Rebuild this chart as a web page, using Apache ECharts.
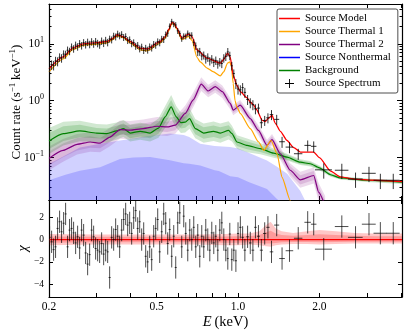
<!DOCTYPE html>
<html>
<head>
<meta charset="utf-8">
<script src="https://cdn.jsdelivr.net/npm/echarts@6/dist/echarts.min.js"></script>
<style>
html, body { margin: 0; padding: 0; background: #fff; }
#chart { width: 407px; height: 335px; }
</style>
</head>
<body>
<div id="chart"></div>
<script>
const FONT = "Liberation Serif";
const log = Math.log10;

// spectrum bins: energy (keV), count rate, fractional error, half bin width, residual (chi)
const energy = [
  0.201, 0.2045, 0.208, 0.2115, 0.2152, 0.2189, 0.2226, 0.2265, 0.2304, 0.2343,
  0.2383, 0.2424, 0.2466, 0.2509, 0.2552, 0.2596, 0.264, 0.2686, 0.2732, 0.2779,
  0.2827, 0.2875, 0.2925, 0.2975, 0.3026, 0.3078, 0.3131, 0.3185, 0.324, 0.3296,
  0.3352, 0.341, 0.3468, 0.3528, 0.3589, 0.365, 0.3713, 0.3777, 0.3842, 0.3908,
  0.3975, 0.4043, 0.4113, 0.4184, 0.4256, 0.4329, 0.4403, 0.4479, 0.4556, 0.4634,
  0.4714, 0.4795, 0.4877, 0.4961, 0.5047, 0.5133, 0.5222, 0.5312, 0.5403, 0.5496,
  0.559, 0.5687, 0.5784, 0.5884, 0.5985, 0.6088, 0.6193, 0.6299, 0.6408, 0.6518,
  0.663, 0.6744, 0.686, 0.6978, 0.7098, 0.722, 0.7344, 0.747, 0.7599, 0.773,
  0.7863, 0.7998, 0.8135, 0.8275, 0.8418, 0.8562, 0.871, 0.886, 0.9012, 0.9167,
  0.9325, 0.9485, 0.9648,
  0.982, 1.0, 1.02, 1.04, 1.06, 1.085, 1.11, 1.135, 1.16, 1.19,
  1.22, 1.255, 1.29, 1.33, 1.39, 1.455, 1.55, 1.67, 1.81, 1.905,
  2.075, 2.42, 2.72, 3.05, 3.36, 3.75
];
const rate = [
  3.6, 4.3, 4.2, 5.0, 4.9, 5.8, 5.6, 6.6, 6.5, 7.7,
  7.4, 8.8, 8.2, 9.5, 8.9, 10.1, 9.3, 10.5, 9.7, 10.7,
  9.8, 10.9, 10.0, 11.0, 10.2, 9.6, 11.2, 10.3, 11.5, 10.6,
  12.2, 11.8, 13.7, 13.3, 14.9, 13.9, 14.6, 13.0, 13.4, 11.5,
  11.8, 10.1, 10.5, 9.1, 9.4, 8.2, 8.8, 7.7, 8.4, 7.8,
  8.9, 8.5, 9.8, 9.5, 10.9, 10.5, 12.1, 12.0, 14.4, 15.4,
  20.3, 24.5, 22.2, 21.4, 16.9, 15.2, 12.3, 13.6, 13.5, 15.3,
  14.0, 14.1, 10.6, 9.2, 7.2, 7.3, 6.1, 6.3, 5.4, 5.8,
  5.0, 5.4, 4.7, 5.1, 4.4, 4.8, 4.5, 5.6, 6.0, 7.2,
  6.2, 4.1, 3.0,
  2.0, 1.6, 1.55, 1.7, 1.4, 1.05, 0.92, 0.85, 0.72, 0.74,
  0.41, 0.45, 0.50, 0.57, 0.47, 0.19, 0.153, 0.117, 0.164, 0.158,
  0.061, 0.060, 0.042, 0.053, 0.040, 0.040
];
const rateErr = [
  0.20, 0.19, 0.19, 0.18, 0.18, 0.17, 0.17, 0.16, 0.16, 0.16,
  0.15, 0.15, 0.15, 0.15, 0.15, 0.15, 0.15, 0.15, 0.15, 0.15,
  0.15, 0.15, 0.15, 0.15, 0.15, 0.15, 0.15, 0.15, 0.15, 0.15,
  0.14, 0.14, 0.14, 0.14, 0.14, 0.14, 0.14, 0.14, 0.14, 0.14,
  0.14, 0.14, 0.14, 0.14, 0.14, 0.14, 0.14, 0.14, 0.14, 0.14,
  0.14, 0.14, 0.14, 0.14, 0.14, 0.14, 0.14, 0.14, 0.14, 0.14,
  0.12, 0.12, 0.12, 0.12, 0.12, 0.12, 0.12, 0.12, 0.12, 0.12,
  0.13, 0.13, 0.14, 0.15, 0.16, 0.16, 0.16, 0.16, 0.17, 0.17,
  0.17, 0.17, 0.17, 0.17, 0.17, 0.17, 0.17, 0.17, 0.17, 0.17,
  0.17, 0.17, 0.18,
  0.2, 0.2, 0.2, 0.2, 0.2, 0.2, 0.2, 0.2, 0.2, 0.2,
  0.2, 0.2, 0.2, 0.2, 0.2, 0.22, 0.22, 0.22, 0.22, 0.22,
  0.3, 0.3, 0.3, 0.3, 0.3, 0.3
];
const binHalf = [
  0.0018, 0.0018, 0.0018, 0.0018, 0.0019, 0.0019, 0.0019, 0.0019, 0.0020, 0.0020,
  0.0020, 0.0021, 0.0021, 0.0021, 0.0022, 0.0022, 0.0022, 0.0023, 0.0023, 0.0024,
  0.0024, 0.0024, 0.0025, 0.0025, 0.0026, 0.0026, 0.0027, 0.0027, 0.0028, 0.0028,
  0.0029, 0.0029, 0.0030, 0.0030, 0.0031, 0.0031, 0.0032, 0.0032, 0.0033, 0.0033,
  0.0034, 0.0034, 0.0035, 0.0036, 0.0036, 0.0037, 0.0037, 0.0038, 0.0039, 0.0039,
  0.0040, 0.0041, 0.0041, 0.0042, 0.0043, 0.0044, 0.0044, 0.0045, 0.0046, 0.0047,
  0.0048, 0.0048, 0.0049, 0.0050, 0.0051, 0.0052, 0.0053, 0.0054, 0.0054, 0.0055,
  0.0056, 0.0057, 0.0058, 0.0059, 0.0060, 0.0061, 0.0062, 0.0063, 0.0065, 0.0066,
  0.0067, 0.0068, 0.0069, 0.0070, 0.0072, 0.0073, 0.0074, 0.0075, 0.0077, 0.0078,
  0.0079, 0.0081, 0.0082,
  0.009, 0.009, 0.010, 0.010, 0.011, 0.012, 0.012, 0.013, 0.013, 0.015,
  0.016, 0.018, 0.018, 0.020, 0.030, 0.035, 0.050, 0.060, 0.050, 0.045,
  0.15, 0.14, 0.17, 0.18, 0.19, 0.21
];
const chi = [
  0.2, -0.2, -0.9, -0.65, 1.0, 1.6, 0.7, 1.47, 2.3, -0.65,
  0.85, 1.0, 0.6, -0.3, 0.25, -0.75, 0.85, 0.4, -1.2, -2.2,
  -1.35, 0.85, 0.25, -0.8, -0.95, -1.1, -0.35, -1.3, -0.95, -1.1,
  -3.4, 0.2, 0, 0.9, 0.3, -0.65, 0.85, 1.8, 2.3, 1.3,
  1.5, 0.55, 1.95, 2.6, 1.0, 1.6, 0, 0.55, -1.5, -2.0,
  -0.65, -1.8, 0.3, 1.0, 1.8, -1.1, 0.7, 2.3, 1.47, -0.35,
  0.9, -1.5, 0.3, -2.5, 1.5, 2.4, -0.65, 2.1, 0.55, -0.95,
  0.85, 0, 1.1, -0.65, 0.4, -1.5, 0.3, -0.65, 0.85, 0,
  -0.95, 0.6, -0.3, 0.3, -0.95, 0.85, 1.5, 0, -0.95, -1.7,
  0.5, -1.8, -0.95,
  -1.9, 0.55, 1.1, 0.2, -0.95, 0.25, -0.3, -0.95, 1.1, 0.3,
  -0.95, 0.55, 1.1, -1.1, 1.3, -1.7, -1.0, 0.12, 1.55, 1.38,
  -0.86, 1.17, 0.2, 1.38, 0.57, 0.57
];

// total source model
const modelE = [0.2, 0.2254, 0.245, 0.267, 0.301, 0.328, 0.345, 0.357, 0.376, 0.399,
  0.435, 0.461, 0.473, 0.502, 0.515, 0.538, 0.555, 0.569, 0.58, 0.594,
  0.62, 0.656, 0.676, 0.705, 0.768, 0.86, 0.885, 0.915, 0.936, 0.96,
  0.99, 1.019, 1.08, 1.11, 1.142, 1.17, 1.23, 1.262, 1.3, 1.336,
  1.374, 1.434, 1.518, 1.607, 1.7, 1.905, 2.0, 2.2, 2.39, 2.68, 3.18, 4.04];
const modelRate = [3.65, 5.9, 8.5, 10.0, 10.5, 11.0, 12.6, 14.4, 13.4, 11.0,
  8.4, 8.1, 8.5, 10.4, 11.0, 13.4, 18.0, 23.8, 23.0, 18.9,
  12.6, 14.8, 13.4, 7.8, 5.6, 4.56, 5.3, 6.85, 5.8, 2.8,
  1.85, 1.44, 1.12, 0.95, 0.84, 0.70, 0.45, 0.43, 0.50, 0.55,
  0.40, 0.29, 0.20, 0.15, 0.125, 0.125, 0.10, 0.058, 0.046, 0.042, 0.040, 0.038];

// thermal 1
const th1E = [0.2, 0.2254, 0.245, 0.267, 0.301, 0.328, 0.345, 0.357, 0.376, 0.399,
  0.435, 0.461, 0.473, 0.502, 0.515, 0.538, 0.555, 0.569, 0.58, 0.594,
  0.62, 0.656, 0.676, 0.705, 0.725, 0.768, 0.808, 0.86, 0.885, 0.915,
  0.932, 0.945, 0.96, 0.975, 0.99, 1.019, 1.11, 1.19, 1.245, 1.325,
  1.394, 1.455, 1.56, 1.62];
const th1Rate = [3.2, 5.4, 7.9, 9.4, 9.9, 10.4, 12.0, 13.8, 12.8, 10.4,
  7.8, 7.5, 7.9, 9.7, 10.3, 12.6, 17.0, 22.8, 22.0, 18.0,
  11.8, 13.5, 11.5, 5.8, 4.8, 3.75, 3.25, 2.72, 3.2, 4.6,
  4.8, 4.0, 2.0, 1.0, 0.78, 0.6, 0.324, 0.19, 0.134, 0.2,
  0.117, 0.045, 0.0176, 0.01];

// thermal 2 with 68% / 95% half widths (dex)
const th2E = [0.2, 0.2254, 0.254, 0.284, 0.309, 0.336, 0.366, 0.399, 0.446, 0.502,
  0.547, 0.586, 0.638, 0.683, 0.731, 0.776, 0.824, 0.875, 0.936, 0.96,
  1.019, 1.11, 1.19, 1.28, 1.336, 1.434, 1.56, 1.7, 1.905, 1.988, 2.1];
const th2Rate = [0.097, 0.134, 0.171, 0.188, 0.18, 0.23, 0.311, 0.303, 0.324, 0.356,
  0.346, 0.371, 0.597, 1.03, 1.95, 1.48, 1.77, 1.44, 0.895, 0.682,
  0.835, 0.486, 0.3, 0.164, 0.207, 0.117, 0.06, 0.0407, 0.0485, 0.0245, 0.0143];
const th2W68 = [0.12, 0.12, 0.11, 0.1, 0.09, 0.09, 0.09, 0.09, 0.09, 0.09,
  0.09, 0.09, 0.08, 0.07, 0.06, 0.06, 0.06, 0.06, 0.05, 0.05,
  0.05, 0.05, 0.05, 0.06, 0.06, 0.06, 0.07, 0.08, 0.08, 0.09, 0.1];
const th2W95 = [0.21, 0.2, 0.18, 0.17, 0.16, 0.16, 0.16, 0.16, 0.16, 0.16,
  0.16, 0.15, 0.14, 0.13, 0.12, 0.11, 0.11, 0.11, 0.1, 0.09,
  0.09, 0.09, 0.09, 0.1, 0.1, 0.11, 0.12, 0.14, 0.14, 0.16, 0.17];

// background with 68% / 95% half widths (dex)
const bkgE = [0.2, 0.226, 0.26, 0.3, 0.327, 0.356, 0.377, 0.399, 0.435, 0.473,
  0.508, 0.538, 0.566, 0.591, 0.615, 0.638, 0.662, 0.695, 0.746, 0.812,
  0.86, 0.923, 0.95, 0.991, 1.08, 1.209, 1.354, 1.518, 1.7, 1.85,
  2.0, 2.2, 2.39, 3.0, 4.04];
const bkgRate = [0.196, 0.264, 0.294, 0.27, 0.264, 0.294, 0.324, 0.27, 0.29, 0.27,
  0.33, 0.52, 0.78, 0.52, 0.41, 0.42, 0.486, 0.324, 0.27, 0.29,
  0.27, 0.3, 0.264, 0.188, 0.164, 0.144, 0.12, 0.102, 0.083, 0.078,
  0.066, 0.05, 0.044, 0.04, 0.037];
const bkgW68 = [0.14, 0.13, 0.11, 0.09, 0.09, 0.09, 0.09, 0.09, 0.09, 0.09,
  0.1, 0.11, 0.12, 0.11, 0.1, 0.1, 0.1, 0.1, 0.1, 0.1,
  0.1, 0.09, 0.08, 0.07, 0.07, 0.06, 0.05, 0.04, 0.03, 0.03,
  0.025, 0.02, 0.02, 0.02, 0.02];
const bkgW95 = [0.23, 0.21, 0.18, 0.16, 0.16, 0.15, 0.15, 0.15, 0.15, 0.15,
  0.17, 0.19, 0.21, 0.19, 0.18, 0.18, 0.18, 0.17, 0.17, 0.17,
  0.17, 0.16, 0.14, 0.12, 0.12, 0.1, 0.08, 0.06, 0.05, 0.05,
  0.04, 0.035, 0.03, 0.03, 0.03];

// nonthermal: upper edges of the 68% and 95% bands (lower edges off the plot)
const ntE = [0.2, 0.23, 0.26, 0.309, 0.366, 0.41, 0.473, 0.56, 0.63, 0.66,
  0.725, 0.82, 0.85, 0.936, 1.0, 1.1, 1.28, 1.39, 1.52, 1.7, 1.8];
const ntTop95 = [0.077, 0.11, 0.15, 0.176, 0.2, 0.216, 0.24, 0.264, 0.25, 0.23,
  0.176, 0.16, 0.158, 0.153, 0.145, 0.12, 0.089, 0.07, 0.052, 0.026, 0.015];
const ntTop68 = [0.040, 0.05, 0.059, 0.068, 0.095, 0.1, 0.102, 0.09, 0.08, 0.078,
  0.073, 0.06, 0.058, 0.047, 0.045, 0.037, 0.028, 0.019, 0.013, 0.008, 0.006];

// model band in the residual panel (chi units)
const resBandE = [0.2, 0.3, 0.5, 0.7, 0.9, 1.0, 1.1, 1.2, 1.27, 1.32, 1.38, 1.45, 1.6, 1.8, 2.0, 2.3, 2.7, 3.2, 4.04];
const resHi95 = [0.5, 0.45, 0.45, 0.45, 0.5, 0.55, 0.55, 0.75, 1.3, 1.6, 1.0, 0.75, 0.6, 0.75, 0.85, 0.75, 0.6, 0.55, 0.55];
const resLo95 = [-0.5, -0.45, -0.45, -0.45, -0.5, -0.5, -0.45, -0.5, -0.6, -0.65, -0.5, -0.45, -0.4, -0.4, -0.45, -0.4, -0.35, -0.35, -0.35];
const resHi68 = [0.28, 0.25, 0.25, 0.25, 0.28, 0.3, 0.3, 0.42, 0.65, 0.8, 0.55, 0.42, 0.35, 0.42, 0.48, 0.42, 0.35, 0.3, 0.3];
const resLo68 = [-0.28, -0.25, -0.25, -0.25, -0.28, -0.28, -0.25, -0.3, -0.35, -0.35, -0.3, -0.25, -0.22, -0.22, -0.25, -0.22, -0.2, -0.2, -0.2];

const xTicks = [0.3, 0.4, 0.5, 0.6, 0.7, 0.8, 0.9, 1, 2, 3, 4];
const xLabels = [0.2, 0.5, 1.0, 2.0];
const yExponents = [-1, 0, 1];
const chiTicks = [-4, -2, 0, 2];

const E_MIN = 0.2, E_MAX = 4.04;
const R_MIN = 0.018, R_MAX = 50;
const CHI_MIN = -5.15, CHI_MAX = 3.55;

const yMinor = [];
for (let n = -2; n <= 1; n++) {
  for (let k = 2; k <= 9; k++) {
    const v = log(k) + n;
    if (v > log(R_MIN) && v < log(R_MAX)) yMinor.push(v);
  }
}

const minus = (v) => (v < 0 ? "\u2212" + -v : "" + v);
const LINE_ICON = "path://M0,0h21v1.5h-21z";

function bandSeries(xs, lo, hi, color, grid) {
  const rows = xs.map((x, i) => [x, lo[i], hi[i]]);
  return {
    type: "custom",
    xAxisIndex: grid * 2,
    yAxisIndex: grid ? 4 : 0,
    clip: true,
    silent: true,
    z: 1,
    data: rows,
    renderItem(params, api) {
      if (params.dataIndex !== 0) return;
      const top = rows.map((r) => api.coord([r[0], r[2]]));
      const bottom = rows.slice().reverse().map((r) => api.coord([r[0], r[1]]));
      return { type: "polygon", shape: { points: top.concat(bottom) }, style: { fill: color } };
    },
  };
}

function logBand(es, vals, widths, color) {
  return bandSeries(
    es.map(log),
    vals.map((v, i) => log(v) - widths[i]),
    vals.map((v, i) => log(v) + widths[i]),
    color,
    0
  );
}

function fillBelow(es, tops, color) {
  return bandSeries(es.map(log), es.map(() => log(R_MIN)), tops.map(log), color, 0);
}

function curve(name, es, vals, color, width, z) {
  return {
    type: "line",
    name,
    xAxisIndex: 0,
    yAxisIndex: 0,
    data: es.map((e, i) => [log(e), log(vals[i])]),
    symbol: "none",
    smooth: 0.2,
    smoothMonotone: "x",
    silent: true,
    z,
    lineStyle: { color, width },
    itemStyle: { color },
  };
}

function errorBars(name, rows, color, grid) {
  return {
    type: "custom",
    name,
    xAxisIndex: grid * 2,
    yAxisIndex: grid ? 4 : 0,
    clip: true,
    silent: true,
    z: 5,
    itemStyle: { color: "#000" },
    data: rows,
    renderItem(params, api) {
      const x = api.value(0), y = api.value(1);
      const a = api.coord([x, api.value(2)]), b = api.coord([x, api.value(3)]);
      const l = api.coord([api.value(4), y]), r = api.coord([api.value(5), y]);
      const style = { stroke: color, lineWidth: 1 };
      return {
        type: "group",
        children: [
          { type: "line", shape: { x1: a[0], y1: a[1], x2: b[0], y2: b[1] }, style },
          { type: "line", shape: { x1: l[0], y1: l[1], x2: r[0], y2: r[1] }, style },
        ],
      };
    },
  };
}

const specRows = energy.map((e, i) => [
  log(e), log(rate[i]),
  log(rate[i] * (1 - rateErr[i])), log(rate[i] * (1 + rateErr[i])),
  log(e - binHalf[i]), log(e + binHalf[i]),
]);
const chiRows = energy.map((e, i) => [
  log(e), chi[i], chi[i] - 1, chi[i] + 1, log(e - binHalf[i]), log(e + binHalf[i]),
]);

function xAxis(grid, position, labels) {
  return {
    type: "value",
    gridIndex: grid,
    position,
    min: log(E_MIN),
    max: log(E_MAX),
    axisLine: { onZero: false, lineStyle: { color: "#000", width: 1.2 } },
    axisTick: { inside: true, length: 4, customValues: xTicks.map(log), lineStyle: { color: "#000" } },
    axisLabel: labels
      ? { customValues: xLabels.map(log), margin: 4, color: "#000", fontFamily: FONT, fontSize: 11.5,
          formatter: (v) => Math.pow(10, v).toFixed(1) }
      : { show: false },
    splitLine: { show: false },
  };
}

function yAxisLog(position, minor) {
  return {
    type: "value",
    gridIndex: 0,
    position,
    min: log(R_MIN),
    max: log(R_MAX),
    axisLine: { show: !minor, onZero: false, lineStyle: { color: "#000", width: 1.2 } },
    axisTick: { inside: true, length: minor ? 2.5 : 5, customValues: minor ? yMinor : yExponents,
      lineStyle: { color: "#000" } },
    axisLabel: { show: false },
    splitLine: { show: false },
  };
}

const yTop = yAxisLog("left", false);
yTop.axisLabel = {
  customValues: yExponents,
  margin: 5,
  formatter: (v) => "{b|10}{s|" + minus(Math.round(v)) + "}",
  rich: {
    b: { fontFamily: FONT, fontSize: 11.5, color: "#000", lineHeight: 16 },
    s: { fontFamily: FONT, fontSize: 8, color: "#000", lineHeight: 8, verticalAlign: "top" },
  },
};
yTop.name = "{a|Count rate (s}{s|\u22121}{a|\u2009keV}{s|\u22121}{a|)}";
yTop.nameLocation = "middle";
yTop.nameGap = 23;
yTop.nameMoveOverlap = false;
yTop.nameTextStyle = {
  rich: {
    a: { fontFamily: FONT, fontSize: 13, color: "#000", lineHeight: 18 },
    s: { fontFamily: FONT, fontSize: 9, color: "#000", lineHeight: 9, verticalAlign: "top" },
  },
};

const yChi = {
  type: "value",
  gridIndex: 1,
  position: "left",
  min: CHI_MIN,
  max: CHI_MAX,
  name: "\u03c7",
  nameLocation: "middle",
  nameGap: 19,
  nameMoveOverlap: false,
  nameTextStyle: { fontFamily: FONT, fontStyle: "italic", fontSize: 14, color: "#000" },
  axisLine: { onZero: false, lineStyle: { color: "#000", width: 1.2 } },
  axisTick: { inside: true, length: 4, customValues: chiTicks, lineStyle: { color: "#000" } },
  axisLabel: { customValues: chiTicks, margin: 5, color: "#000", fontFamily: FONT, fontSize: 9.5, formatter: (v) => minus(v) },
  splitLine: { show: false },
};
const yChiRight = Object.assign({}, yChi, { position: "right", name: "", axisLabel: { show: false } });

const xBottom = xAxis(1, "bottom", true);
xBottom.name = "{i|E}{n|\u2009(keV)}";
xBottom.nameLocation = "middle";
xBottom.nameGap = 18;
xBottom.nameTextStyle = {
  rich: {
    i: { fontFamily: FONT, fontStyle: "italic", fontSize: 14.5, color: "#000" },
    n: { fontFamily: FONT, fontSize: 14.5, color: "#000" },
  },
};

const chart = echarts.init(document.getElementById("chart"), null, { renderer: "canvas" });
chart.setOption({
  animation: false,
  backgroundColor: "#fff",
  textStyle: { fontFamily: FONT },
  grid: [
    { left: 49, right: 5, top: 4, height: 196, containLabel: false, outerBoundsMode: "none" },
    { left: 49, right: 5, top: 200, height: 97, containLabel: false, outerBoundsMode: "none" },
  ],
  legend: {
    orient: "vertical",
    left: 277,
    top: 9,
    padding: [4, 7, 4, 2],
    itemWidth: 21,
    itemHeight: 9,
    itemGap: 2,
    backgroundColor: "#fff",
    borderColor: "#222",
    borderWidth: 0.8,
    borderRadius: 2,
    selectedMode: false,
    textStyle: { fontFamily: FONT, fontSize: 11, color: "#000", lineHeight: 11 },
    data: [
      { name: "Source Model", icon: LINE_ICON },
      { name: "Source Thermal 1", icon: LINE_ICON },
      { name: "Source Thermal 2", icon: LINE_ICON },
      { name: "Source Nonthermal", icon: LINE_ICON },
      { name: "Background", icon: LINE_ICON },
      { name: "Source Spectrum", icon: "path://M4.5,0h1v10h-1zM0,4.5h10v1h-10z" },
    ],
  },
  xAxis: [xAxis(0, "bottom", false), xAxis(0, "top", false), xBottom, xAxis(1, "top", false)],
  yAxis: [yTop, yAxisLog("left", true), yAxisLog("right", false), yAxisLog("right", true), yChi, yChiRight],
  series: [
    fillBelow(ntE, ntTop95, "rgba(0, 0, 255, 0.18)"),
    fillBelow(ntE, ntTop68, "rgba(0, 0, 255, 0.18)"),
    logBand(th2E, th2Rate, th2W95, "rgba(128, 0, 128, 0.15)"),
    logBand(th2E, th2Rate, th2W68, "rgba(128, 0, 128, 0.15)"),
    logBand(bkgE, bkgRate, bkgW95, "rgba(0, 128, 0, 0.18)"),
    logBand(bkgE, bkgRate, bkgW68, "rgba(0, 128, 0, 0.18)"),
    curve("Background", bkgE, bkgRate, "#008000", 1.2, 2),
    curve("Source Thermal 2", th2E, th2Rate, "#800080", 1.2, 3),
    curve("Source Thermal 1", th1E, th1Rate, "#ffa500", 1.2, 3),
    { type: "line", name: "Source Nonthermal", xAxisIndex: 0, yAxisIndex: 0, data: [], symbol: "none",
      lineStyle: { color: "#0000ff", width: 1.2 }, itemStyle: { color: "#0000ff" } },
    curve("Source Model", modelE, modelRate, "#ff0000", 1.3, 4),
    errorBars("Source Spectrum", specRows, "rgba(0, 0, 0, 0.8)", 0),
    bandSeries(resBandE.map(log), resLo95, resHi95, "rgba(255, 0, 0, 0.22)", 1),
    bandSeries(resBandE.map(log), resLo68, resHi68, "rgba(255, 0, 0, 0.22)", 1),
    { type: "line", xAxisIndex: 2, yAxisIndex: 4, data: [[log(E_MIN), 0], [log(E_MAX), 0]], symbol: "none",
      silent: true, z: 3, lineStyle: { color: "#ff0000", width: 1.3 } },
    errorBars("Residuals", chiRows, "rgba(0, 0, 0, 0.7)", 1),
  ],
});
</script>
</body>
</html>
